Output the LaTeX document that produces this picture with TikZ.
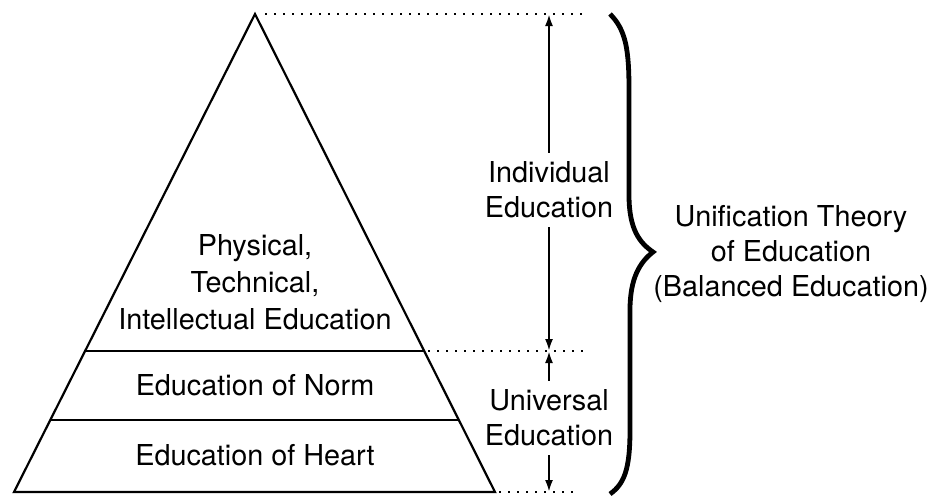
\documentclass[tikz,border=0pt]{standalone}
\usepackage{fontspec}
\setmainfont{TeX Gyre Heros}
\usepackage{tikz}
\usetikzlibrary{arrows.meta, positioning}
\tikzset{guide/.style={line width=1pt, dash pattern=on 1pt off 3.5pt}}

\begin{document}
\begin{tikzpicture}[x=0.5pt, y=-0.5pt, line width=1.1pt, >={Latex[length=6pt,width=4pt]},
  every node/.style={font=\fontsize{14.4}{17.5}\selectfont, align=center, inner sep=1pt},
  span/.style={inner sep=4pt}]
\useasboundingbox (0,0) rectangle (927,500);
\coordinate (apex) at (255,14);
\coordinate (bl) at (14,492);
\coordinate (br) at (495,492);
\coordinate (nl) at (85,351);
\coordinate (nr) at (424,351);
\coordinate (hl) at (50,420);
\coordinate (hr) at (459,420);
\draw (apex) -- (bl) -- (br) -- cycle;
\draw (nl) -- (nr);
\draw (hl) -- (hr);
\node (phys) at (255,282) {Physical,\\[1pt]Technical,\\[1pt]Intellectual Education};
\node (norm) at (255,385) {Education of Norm};
\node (heart) at (255,455) {Education of Heart};
\coordinate (g1) at (582,14);
\coordinate (g2) at (585,351);
\coordinate (g3) at (580,492);
\draw[guide] ([xshift=5pt]apex) -- (g1);
\draw[guide] ([xshift=2pt]nr) -- (g2);
\draw[guide] ([xshift=2pt]br) -- (g3);
\coordinate (at) at (549,14);
\coordinate (am) at (549,351);
\coordinate (ab) at (549,492);
\node[span] (indiv) at (549,190) {Individual\\Education};
\node[span] (univ) at (549,418) {Universal\\Education};
\draw[->] (indiv) -- (at);
\draw[->] (indiv) -- (am);
\draw[->] (univ) -- (am);
\draw[->] (univ) -- (ab);
\coordinate (bt) at (610,14);
\coordinate (tip) at (653,252);
\coordinate (bb) at (610,494);
\draw[line width=2.4pt] (bt) .. controls (626,30) and (629,50) .. (629,90) -- (629,195)
  .. controls (629,230) and (640,243) .. (tip)
  .. controls (640,262) and (630,278) .. (630,310) -- (630,430)
  .. controls (630,470) and (624,484) .. (bb);
\node (unif) at (791,254) {Unification Theory\\of Education\\(Balanced Education)};
\end{tikzpicture}
\end{document}
